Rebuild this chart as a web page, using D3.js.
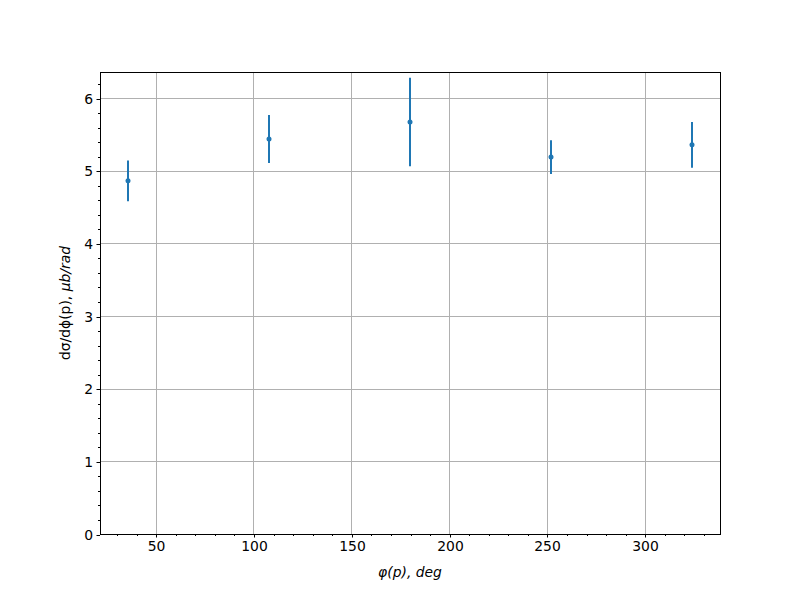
<!DOCTYPE html>
<html>
<head>
<meta charset="utf-8">
<script src="https://cdn.jsdelivr.net/npm/d3@7"></script>
<style>
  body { margin: 0; background: #fff; }
  svg { display: block; }
  text { font-family: "DejaVu Sans", sans-serif; }
</style>
</head>
<body>
<svg id="chart" width="800" height="600"></svg>
<script>
const phiValues = [36, 108, 180, 252, 324];
const xsecValues = [4.86, 5.436, 5.67, 5.188, 5.356];
const xsecErrors = [0.28, 0.33, 0.61, 0.232, 0.315];
const xTickValues = [50, 100, 150, 200, 250, 300];
const yTickValues = [0, 1, 2, 3, 4, 5, 6];

(function () {
const svg = d3.select("#chart");
const pL = 100, pR = 720, pT = 72, pB = 534;
const x = d3.scaleLinear().domain([21.6, 338.4]).range([pL, pR]);
const y = d3.scaleLinear().domain([0, 6.358]).range([pB, pT]);
const fs = "13.9px";
const snap = v => Math.round(v) + 0.5;

// grid
svg.append("g").selectAll("line").data(xTickValues).join("line")
  .attr("x1", d => snap(x(d))).attr("x2", d => snap(x(d))).attr("y1", pT).attr("y2", pB)
  .attr("stroke", "#b0b0b0").attr("stroke-width", 1);
svg.append("g").selectAll("line").data(yTickValues).join("line")
  .attr("x1", pL).attr("x2", pR).attr("y1", d => snap(y(d))).attr("y2", d => snap(y(d)))
  .attr("stroke", "#b0b0b0").attr("stroke-width", 1);

// axes
const xMinor = d3.range(30, 339, 10).filter(v => v % 50 !== 0);
const yMinor = d3.range(0.2, 6.36, 0.2).filter(v => Math.abs(v - Math.round(v)) > 1e-6);

const xAxis = d3.axisBottom(x).tickValues(xTickValues).tickSize(3.5).tickPadding(3.5).tickFormat(d3.format("d"));
const xAxisMinor = d3.axisBottom(x).tickValues(xMinor).tickSize(2).tickFormat("");
const yAxis = d3.axisLeft(y).tickValues(yTickValues).tickSize(3.5).tickPadding(3.5).tickFormat(d3.format("d"));
const yAxisMinor = d3.axisLeft(y).tickValues(yMinor).tickSize(2).tickFormat("");

function style(g, horiz) {
  g.select(".domain").remove();
  g.selectAll(".tick").attr("transform", function () {
    const t = d3.select(this).attr("transform");
    const m = /translate\(([-\d.e]+),\s*([-\d.e]+)\)/.exec(t);
    const a = +m[1], b = +m[2];
    return horiz ? `translate(${Math.round(a) + 0.5},0)` : `translate(0,${Math.round(b) + 0.5})`;
  });
  g.selectAll("line").attr("stroke", "#000").attr("stroke-width", 1);
  g.selectAll("text").attr("font-size", fs).attr("fill", "#000").attr("font-family", "DejaVu Sans");
}
svg.append("g").attr("transform", `translate(0,${pB})`).call(xAxis).call(style, true);
svg.append("g").attr("transform", `translate(0,${pB})`).call(xAxisMinor).call(style, true);
svg.append("g").attr("transform", `translate(${pL},0)`).call(yAxis).call(style, false);
svg.append("g").attr("transform", `translate(${pL},0)`).call(yAxisMinor).call(style, false);

// frame
svg.append("rect").attr("x", pL + 0.5).attr("y", pT + 0.5).attr("width", pR - pL).attr("height", pB - pT)
  .attr("fill", "none").attr("stroke", "#000").attr("stroke-width", 1);

// error bars
const pts = phiValues.map((p, i) => ({ p, v: xsecValues[i], e: xsecErrors[i] }));
svg.append("g").selectAll("line").data(pts).join("line")
  .attr("x1", d => Math.round(x(d.p))).attr("x2", d => Math.round(x(d.p)))
  .attr("y1", d => y(d.v - d.e)).attr("y2", d => y(d.v + d.e))
  .attr("stroke", "#1f77b4").attr("stroke-width", 2);
svg.append("g").selectAll("circle").data(pts).join("circle")
  .attr("cx", d => Math.round(x(d.p))).attr("cy", d => y(d.v)).attr("r", 2.5)
  .attr("fill", "#1f77b4");

// labels
svg.append("text").attr("x", (pL + pR) / 2).attr("y", 577)
  .attr("text-anchor", "middle").attr("font-size", fs).attr("font-style", "italic")
  .text("φ(p), deg");

const yl = svg.append("text").attr("transform", `translate(70,${(pT + pB) / 2}) rotate(-90)`)
  .attr("text-anchor", "middle").attr("font-size", fs);
yl.append("tspan").text("dσ/dϕ(p), ");
yl.append("tspan").attr("font-style", "italic").text("μb/rad");
})();
</script>
</body>
</html>
